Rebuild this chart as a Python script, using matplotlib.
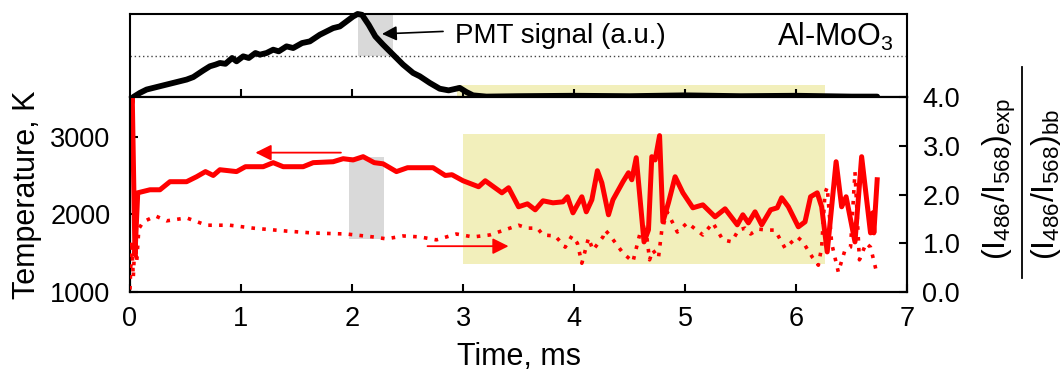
import matplotlib
matplotlib.use("Agg")
import matplotlib.pyplot as plt
from matplotlib.lines import Line2D

plt.rcParams['font.family'] = ['Liberation Sans', 'DejaVu Sans']
plt.rcParams['mathtext.fontset'] = 'custom'
plt.rcParams['mathtext.rm'] = 'Liberation Sans'
plt.rcParams['mathtext.it'] = 'Liberation Sans:italic'
plt.rcParams['font.size'] = 19.5

# PMT signal (top panel), normalised
pmt_t = [0.03, 0.09, 0.15, 0.24, 0.36, 0.51, 0.57, 0.66, 0.72, 0.77, 0.81, 0.86, 0.92, 0.96, 1.02,
         1.07, 1.13, 1.17, 1.23, 1.29, 1.34, 1.41, 1.47, 1.55, 1.62, 1.71, 1.83, 1.89, 2.01, 2.05,
         2.09, 2.15, 2.21, 2.28, 2.37, 2.46, 2.55, 2.61, 2.70, 2.79, 2.87, 2.97, 3.03, 3.09, 3.21,
         3.5, 4.0, 4.5, 5.0, 5.5, 6.0, 6.5, 6.73]
pmt_v = [0.0, 0.05, 0.09, 0.12, 0.16, 0.21, 0.24, 0.32, 0.37, 0.39, 0.41, 0.40, 0.47, 0.43, 0.49,
         0.47, 0.53, 0.51, 0.53, 0.57, 0.55, 0.61, 0.59, 0.65, 0.67, 0.75, 0.83, 0.85, 0.97, 1.0,
         0.99, 0.87, 0.73, 0.63, 0.51, 0.39, 0.29, 0.25, 0.17, 0.10, 0.08, 0.11, 0.06, 0.02, 0.005,
         0.01, 0.015, 0.01, 0.02, 0.01, 0.015, 0.005, 0.005]

# temperature, K (left axis)
temp_t = [0.0, 0.02, 0.045, 0.07, 0.18, 0.27, 0.36, 0.51, 0.60, 0.68,
          0.75, 0.81, 0.96, 1.04, 1.20, 1.29, 1.38, 1.56, 1.65, 1.83,
          1.92, 2.01, 2.10, 2.20, 2.28, 2.40, 2.50, 2.61, 2.73, 2.84,
          2.90, 3.00, 3.14, 3.20, 3.35, 3.41, 3.50, 3.58, 3.65, 3.72,
          3.81, 3.90, 3.94, 3.99, 4.07, 4.11, 4.16, 4.21, 4.25, 4.31,
          4.35, 4.44, 4.49, 4.52, 4.56, 4.63, 4.67, 4.70, 4.73, 4.77,
          4.80, 4.85, 4.91, 4.98, 5.07, 5.16, 5.27, 5.36, 5.47, 5.52,
          5.57, 5.63, 5.69, 5.77, 5.83, 5.87, 5.93, 6.02, 6.08, 6.13,
          6.19, 6.23, 6.28, 6.36, 6.41, 6.45, 6.53, 6.59, 6.67, 6.69,
          6.70, 6.73]
temp_K = [3100, 3560, 1480, 2277, 2316, 2316, 2420, 2420, 2484, 2550,
          2500, 2574, 2550, 2613, 2613, 2665, 2613, 2613, 2665, 2677,
          2716, 2700, 2742, 2665, 2650, 2550, 2600, 2600, 2600, 2500,
          2510, 2432, 2355, 2432, 2277, 2342, 2097, 2135, 2058, 2174,
          2148, 2161, 2226, 2019, 2226, 2032, 2187, 2561, 2406, 1994,
          2187, 2419, 2535, 2445, 2729, 1645, 1800, 2742, 2700, 3013,
          1903, 2148, 2484, 2277, 2084, 2122, 1968, 2071, 1865, 1994,
          1890, 2032, 1865, 2058, 2084, 2213, 2097, 1839, 1903, 2226,
          2277, 2097, 1516, 2677, 2097, 2226, 1645, 2742, 1761, 2019,
          1761, 2445]

# intensity ratio (right axis)
ratio_t = [0.0, 0.015, 0.03, 0.045, 0.06, 0.08, 0.12, 0.23, 0.33, 0.51,
           0.69, 0.90, 1.11, 1.41, 1.65, 1.95, 2.19, 2.31, 2.46, 2.61,
           2.76, 2.94, 3.09, 3.24, 3.50, 3.58, 3.67, 3.72, 3.83, 3.92,
           3.98, 4.03, 4.07, 4.13, 4.17, 4.26, 4.28, 4.32, 4.44, 4.53,
           4.59, 4.64, 4.68, 4.71, 4.76, 4.79, 4.84, 4.93, 5.02, 5.16,
           5.25, 5.34, 5.42, 5.48, 5.54, 5.59, 5.66, 5.74, 5.81, 5.90,
           6.01, 6.06, 6.15, 6.20, 6.23, 6.26, 6.28, 6.32, 6.38, 6.44,
           6.49, 6.53, 6.57, 6.63, 6.67, 6.72]
ratio = [0.05, 1.05, 0.3, 1.1, 0.6, 1.3, 1.44, 1.56, 1.46, 1.52,
         1.37, 1.37, 1.31, 1.25, 1.21, 1.19, 1.13, 1.09, 1.15, 1.13,
         1.07, 1.19, 1.13, 1.17, 1.37, 1.31, 1.31, 1.17, 1.15, 0.92,
         1.15, 1.0, 0.59, 1.11, 0.86, 1.13, 1.27, 1.17, 0.8, 0.62,
         1.17, 1.42, 0.66, 0.86, 0.70, 1.27, 1.64, 1.23, 1.42, 1.17,
         1.42, 1.07, 1.03, 1.27, 1.31, 1.19, 1.29, 1.27, 1.27, 0.9,
         1.13, 1.03, 0.70, 0.55, 0.92, 2.03, 2.15, 1.0, 0.41, 0.86,
         0.92, 2.46, 0.66, 1.0, 0.92, 0.45]

xticks = [0, 1, 2, 3, 4, 5, 6, 7]
temp_ticks = [1000, 2000, 3000]
ratio_ticks = [0.0, 1.0, 2.0, 3.0, 4.0]

gray = '#d9d9d9'
yellow = '#f2efbb'

fig = plt.figure(figsize=(10.61, 3.75), dpi=100)
ax_top = fig.add_axes([0.1225, 0.7413, 0.7325, 0.2214])
ax = fig.add_axes([0.1225, 0.2213, 0.7325, 0.52])
ax2 = ax.twinx()

for a in (ax_top, ax, ax2):
    for s in a.spines.values():
        s.set_linewidth(1.5)

# 1: top panel, PMT signal
ax_top.axvspan(2.05, 2.37, ymin=0.5, ymax=1.0, color=gray, lw=0, zorder=0)
ax_top.axvspan(2.95, 6.26, ymin=0.0, ymax=0.145, color=yellow, lw=0, zorder=0)
ax_top.axhline(0.5, color='#444444', lw=1.0, ls=(0, (1, 2)), zorder=1)
ax_top.plot(pmt_t, pmt_v, color='k', lw=4.2, solid_joinstyle='round',
            solid_capstyle='round', clip_on=False, zorder=3)
ax_top.set_xlim(0, 7)
ax_top.set_ylim(0, 1)
ax_top.set_xticks(xticks[1:-1])
ax_top.set_yticks([])
ax_top.tick_params(axis='x', direction='in', length=6, width=1.5, labelbottom=False)
ax_top.annotate('', xy=(2.27, 0.76), xytext=(2.82, 0.79),
                arrowprops=dict(arrowstyle='-|>', color='k', lw=1.2, mutation_scale=22,
                                shrinkA=0, shrinkB=0))
ax_top.text(2.93, 0.73, 'PMT signal (a.u.)', ha='left', va='center', fontsize=20)
ax_top.text(6.88, 0.72, r'Al-MoO$_3$', ha='right', va='center', fontsize=22)

# 2: bottom panel, temperature and ratio
ax.axvspan(1.97, 2.29, ymin=(1684 - 1000) / 2510, ymax=(2742 - 1000) / 2510,
           color=gray, lw=0, zorder=0)
ax.axvspan(3.0, 6.26, ymin=(1360 - 1000) / 2510, ymax=(3030 - 1000) / 2510,
           color=yellow, lw=0, zorder=0)
ax.plot(temp_t, temp_K, color='red', lw=3.6, solid_joinstyle='round', zorder=3)
ax2.plot(ratio_t, ratio, color='red', lw=2.6, ls=(0, (1, 2.0)), zorder=3)

ax.annotate('', xy=(1.13, 2794), xytext=(1.9, 2794),
            arrowprops=dict(arrowstyle='-|>', color='red', lw=1.3, mutation_scale=24,
                            shrinkA=0, shrinkB=0))
ax2.annotate('', xy=(3.41, 0.94), xytext=(2.68, 0.94),
             arrowprops=dict(arrowstyle='-|>', color='red', lw=1.3, mutation_scale=24,
                             shrinkA=0, shrinkB=0))

ax.set_xlim(0, 7)
ax.set_ylim(1000, 3510)
ax2.set_ylim(0, 4.0)
ax.set_xticks(xticks)
ax.set_yticks(temp_ticks)
ax2.set_yticks(ratio_ticks)
ax2.set_yticklabels(['%.1f' % v for v in ratio_ticks])
ax.tick_params(axis='both', direction='in', length=6, width=1.5)
ax.tick_params(axis='y', pad=14)
ax.tick_params(axis='x', pad=10)
ax2.tick_params(axis='y', direction='in', length=6, width=1.5, pad=11)

ax.set_xlabel('Time, ms', fontsize=22, labelpad=7)
ax.set_ylabel('Temperature, K', fontsize=22, labelpad=6)

# right axis label built by hand: numerator / bar / denominator
num = r'$(\mathrm{I}_{486}/\mathrm{I}_{568})_{\mathrm{exp}}$'
den = r'$(\mathrm{I}_{486}/\mathrm{I}_{568})_{\mathrm{bb}}$'
fig.text(999 / 1061, 1 - 260 / 375, num, rotation=90, ha='center', va='bottom', fontsize=23)
fig.text(1046 / 1061, 1 - 260 / 375, den, rotation=90, ha='center', va='bottom', fontsize=23)
fig.add_artist(Line2D([1022 / 1061, 1022 / 1061], [1 - 278 / 375, 1 - 67 / 375],
                      color='k', lw=1.3, transform=fig.transFigure))

fig.savefig('out.png', dpi=100)
